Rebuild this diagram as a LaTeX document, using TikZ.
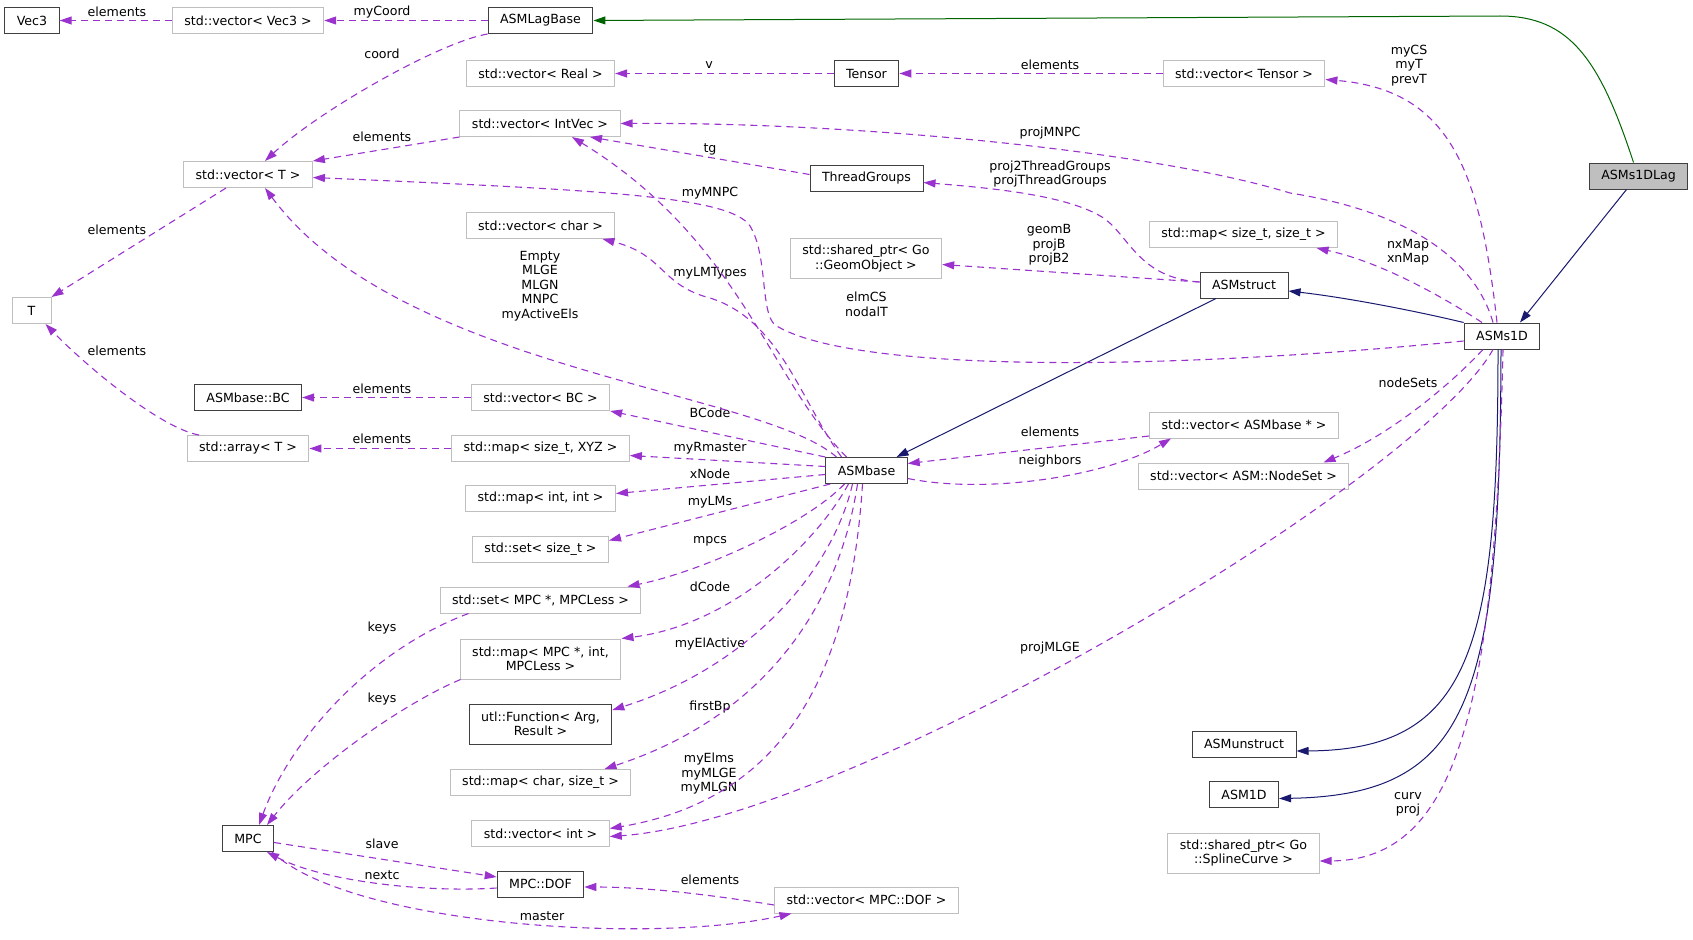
\documentclass[tikz,border=0pt]{standalone}
\usepackage{fontspec}
\setmainfont{DejaVu Sans}
\usetikzlibrary{arrows.meta}

\definecolor{edgepurple}{HTML}{9A32CD}
\definecolor{inhblue}{HTML}{191970}
\definecolor{protgreen}{HTML}{006400}
\definecolor{undocgray}{HTML}{BFBFBF}
\definecolor{docgray}{HTML}{404040}

\begin{document}
\begin{tikzpicture}[
  x=1pt, y=-1pt,
  font=\fontsize{12.6}{14.5}\selectfont,
  cls/.style={rectangle, draw=docgray, line width=1pt, fill=white, align=center,
              inner xsep=12pt, inner ysep=2pt, minimum height=26pt},
  ext/.style={cls, draw=undocgray},
  cur/.style={cls, fill=undocgray},
  tall/.style={minimum height=40pt},
  lbl/.style={inner sep=0pt, align=center},
  dep/.style={-{Triangle[length=12pt,width=8pt]}, edgepurple, line width=1.1pt,
              dash pattern=on 7pt off 5pt},
  inh/.style={-{Triangle[length=12pt,width=8pt]}, inhblue, line width=1pt},
  prot/.style={-{Triangle[length=12pt,width=8pt]}, protgreen, line width=1pt},
]
\useasboundingbox (0,0) rectangle (1693,939);

% Classes -- columns at x = 32, 248, 540, 866, 1244, 1502, 1638
\node[cls] (Vec3)    at (32,20.5)    {Vec3};
\node[ext, minimum width=39pt] (T) at (31.5,310.5) {T};

\node[ext] (VecVec3) at (248,20.5)   {std::vector< Vec3 >};
\node[ext] (VecT)    at (248,174.5)  {std::vector< T >};
\node[cls] (BC)      at (248,397.5)  {ASMbase::BC};
\node[ext] (ArrT)    at (248,448.5)  {std::array< T >};
\node[cls] (MPC)     at (248,838.5)  {MPC};

\node[cls] (LagBase)   at (540.5,20.5)  {ASMLagBase};
\node[ext] (VecReal)   at (540.5,73.5)  {std::vector< Real >};
\node[ext] (VecIntVec) at (540,123.5)   {std::vector< IntVec >};
\node[ext] (VecChar)   at (540.5,225.5) {std::vector< char >};
\node[ext] (VecBC)     at (540.5,397.5) {std::vector< BC >};
\node[ext] (MapXYZ)    at (540.5,448.5) {std::map< size\_t, XYZ >};
\node[ext] (MapII)     at (540.5,498.5) {std::map< int, int >};
\node[ext] (SetSz)     at (540.5,549.5) {std::set< size\_t >};
\node[ext] (SetMPC)    at (540.5,600)   {std::set< MPC *, MPCLess >};
\node[ext, tall] (MapMPC) at (540.5,659) {std::map< MPC *, int,\\MPCLess >};
\node[cls, tall] (Func)   at (540.5,724) {utl::Function< Arg,\\Result >};
\node[ext] (MapChar)   at (540.5,782.5) {std::map< char, size\_t >};
\node[ext] (VecInt)    at (540.5,833.5) {std::vector< int >};
\node[cls] (DOF)       at (540.5,884)   {MPC::DOF};

\node[cls] (Tensor)  at (866.5,73.5)  {Tensor};
\node[cls] (Threads) at (866.5,178.5) {ThreadGroups};
\node[ext, tall] (GeomObj) at (866,258.5) {std::shared\_ptr< Go\\::GeomObject >};
\node[cls] (ASMbase) at (866.5,470.5) {ASMbase};
\node[ext] (VecDOF)  at (866.5,900)   {std::vector< MPC::DOF >};

\node[ext] (VecTensor) at (1244,73.5)   {std::vector< Tensor >};
\node[ext] (MapSz)     at (1243.5,234.5){std::map< size\_t, size\_t >};
\node[cls] (ASMstruct) at (1244,285)    {ASMstruct};
\node[ext] (VecASMp)   at (1244,425)    {std::vector< ASMbase * >};
\node[ext] (VecNS)     at (1243.5,476)  {std::vector< ASM::NodeSet >};
\node[cls] (Unstr)     at (1244,744)    {ASMunstruct};
\node[cls] (ASM1D)     at (1244,794.5)  {ASM1D};
\node[ext, tall] (Spline) at (1243.5,853) {std::shared\_ptr< Go\\::SplineCurve >};

\node[cls] (S1D)    at (1502,336)   {ASMs1D};
\node[cur] (S1DLag) at (1638.5,176) {ASMs1DLag};

% Edge labels
\node[lbl] (lElVec3)   at (117,12)    {elements};
\node[lbl] (lElT)      at (117,230)   {elements};
\node[lbl] (lElArr)    at (117,351)   {elements};
\node[lbl] (lMyCoord)  at (382,12)    {myCoord};
\node[lbl] (lCoord)    at (382,54)    {coord};
\node[lbl] (lElIntVec) at (382,137)   {elements};
\node[lbl] (lElBC)     at (382,389)   {elements};
\node[lbl] (lElXYZ)    at (382,439)   {elements};
\node[lbl] (lKeysA)    at (382,628)   {keys};
\node[lbl] (lKeysB)    at (382,699)   {keys};
\node[lbl] (lSlave)    at (382,844)   {slave};
\node[lbl] (lNextc)    at (382,875)   {nextc};
\node[lbl] (lEmpty)    at (540,286)   {Empty\\MLGE\\MLGN\\MNPC\\myActiveEls};
\node[lbl] (lMaster)   at (542,916)   {master};
\node[lbl] (lV)        at (709,65)    {v};
\node[lbl] (lTg)       at (710,149)   {tg};
\node[lbl] (lMyMNPC)   at (710,193)   {myMNPC};
\node[lbl] (lLMTypes)  at (710,273)   {myLMTypes};
\node[lbl] (lBCode)    at (710,413)   {BCode};
\node[lbl] (lRmaster)  at (710,448)   {myRmaster};
\node[lbl] (lXNode)    at (710,474)   {xNode};
\node[lbl] (lMyLMs)    at (710,502)   {myLMs};
\node[lbl] (lMpcs)     at (710,541)   {mpcs};
\node[lbl] (lDCode)    at (710,587)   {dCode};
\node[lbl] (lElActive) at (710,644)   {myElActive};
\node[lbl] (lFirstBp)  at (710,707)   {firstBp};
\node[lbl] (lMyElms)   at (709,774)   {myElms\\myMLGE\\myMLGN};
\node[lbl] (lElDOF)    at (710,880)   {elements};
\node[lbl] (lElmCS)    at (866.5,304.5) {elmCS\\nodalT};
\node[lbl] (lElTensor) at (1050,65)   {elements};
\node[lbl] (lProjMNPC) at (1050,133)  {projMNPC};
\node[lbl] (lThreadG)  at (1050,174)  {proj2ThreadGroups\\projThreadGroups};
\node[lbl] (lGeomB)    at (1049,245)  {geomB\\projB\\projB2};
\node[lbl] (lElASMp)   at (1050,432)  {elements};
\node[lbl] (lNeighb)   at (1050,461)  {neighbors};
\node[lbl] (lProjMLGE) at (1050,648)  {projMLGE};
\node[lbl] (lMyCS)     at (1409,65.5) {myCS\\myT\\prevT};
\node[lbl] (lNxMap)    at (1408,252)  {nxMap\\xnMap};
\node[lbl] (lNodeSets) at (1408,383)  {nodeSets};
\node[lbl] (lCurv)     at (1408,804.5){curv\\proj};

% Left part
\draw[dep] (VecVec3) -- (Vec3);
\draw[dep] (LagBase) -- (VecVec3);
\draw[dep] (LagBase.south west) .. controls (440,42) and (320,110) .. ([xshift=17]VecT.north);
\draw[dep] (VecIntVec.south west) -- (VecT.north east);
\draw[dep] ([xshift=-22]VecT.south) -- (T.north east);
\draw[dep] ([xshift=-49]ArrT.north) .. controls (160,428) and (85,365) .. ([xshift=14]T.south);
\draw[dep] (VecBC) -- (BC);
\draw[dep] (MapXYZ) -- (ArrT);
\draw[dep] (Tensor) -- (VecReal);
\draw[dep] (VecTensor) -- (Tensor);

% MPC and its DOFs
\draw[dep] ([xshift=-72]SetMPC.south) .. controls (370,650) and (290,740) .. ([xshift=11]MPC.north);
\draw[dep] ([xshift=-80]MapMPC.south) .. controls (400,705) and (310,770) .. ([xshift=19]MPC.north);
\draw[dep] ([yshift=-4]MPC.east) -- ([yshift=7]DOF.west);
\draw[dep] ([yshift=-4]DOF.west) .. controls (420,893) and (320,880) .. ([xshift=19]MPC.south);
\draw[dep] ([xshift=24]MPC.south) .. controls (350,925) and (650,945) .. ([xshift=-75]VecDOF.south);
\draw[dep] ([yshift=-5]VecDOF.west) .. controls (700,893) and (640,887) .. ([yshift=-3]DOF.east);

% ASMbase members
\draw[dep] (ASMbase.north west) -- (VecBC.south east);
\draw[dep] ([yshift=4]ASMbase.west) -- ([yshift=-7]MapXYZ.east);
\draw[dep] ([yshift=-4]ASMbase.west) -- ([yshift=5]MapII.east);
\draw[dep] ([xshift=5]ASMbase.south west) -- ([yshift=9]SetSz.east);
\draw[dep] ([xshift=-22]ASMbase.south) .. controls (805,525) and (700,572) .. ([xshift=87]SetMPC.north);
\draw[dep] ([xshift=-18]ASMbase.south) .. controls (815,545) and (730,625) .. ([xshift=81]MapMPC.north);
\draw[dep] ([xshift=-14]ASMbase.south) .. controls (830,580) and (740,670) .. ([yshift=14]Func.east);
\draw[dep] ([xshift=-9]ASMbase.south) .. controls (840,600) and (770,715) .. ([xshift=64]MapChar.north);
\draw[dep] ([xshift=-4]ASMbase.south) .. controls (850,680) and (780,800) .. ([yshift=5]VecInt.east);
\draw[dep] ([xshift=-30]ASMbase.north) .. controls (760,390) and (400,370) .. ([xshift=17]VecT.south);
\draw[dep] ([xshift=-20]ASMbase.north) .. controls (770,380) and (740,240) .. ([xshift=32]VecIntVec.south);
\draw[dep] ([xshift=-25]ASMbase.north) .. controls (800,400) and (780,320) .. (710,298)
  .. controls (660,285) and (665,255) .. ([xshift=62]VecChar.south);
\draw[dep] ([yshift=-8]ASMbase.east) .. controls (990,495) and (1110,475) .. ([xshift=-73]VecASMp.south);
\draw[dep] ([yshift=-11]VecASMp.west) -- ([yshift=7]ASMbase.east);
\draw[dep] ([yshift=4]Threads.west) -- ([xshift=50]VecIntVec.south);

% ASMstruct
\draw[inh] ([xshift=-28]ASMstruct.south) -- ([xshift=30]ASMbase.north);
\draw[dep] ([yshift=3]ASMstruct.west) .. controls (1140,278) and (1130,238) .. (1105,219)
  .. controls (1070,195) and (990,188) .. ([yshift=-4]Threads.east);
\draw[dep] ([yshift=3]ASMstruct.west) -- ([yshift=-6]GeomObj.east);

% ASMs1D
\draw[inh] (S1D.north west) .. controls (1420,312) and (1350,298) .. ([yshift=-6]ASMstruct.east);
\draw[dep] ([xshift=-5]S1D.north) .. controls (1480,170) and (1450,90) .. ([yshift=-6]VecTensor.east);
\draw[dep] ([xshift=-9]S1D.north) .. controls (1475,260) and (1410,212) .. (1290,193)
  .. controls (1150,150) and (850,122) .. (VecIntVec.east);
\draw[dep] ([xshift=-20]S1D.north) .. controls (1440,295) and (1380,262) .. ([xshift=73]MapSz.south);
\draw[dep] ([yshift=-5]S1D.west) .. controls (1150,372) and (850,372) .. (775,325)
  .. controls (760,312) and (768,255) .. (750,226)
  .. controls (730,196) and (600,190) .. ([yshift=-3]VecT.east);
\draw[dep] ([xshift=-19]S1D.south) .. controls (1450,385) and (1390,435) .. ([xshift=80]VecNS.north);
\draw[dep] ([xshift=-9]S1D.south) .. controls (1420,480) and (850,820) .. ([yshift=-3]VecInt.east);
\draw[inh] ([xshift=-4]S1D.south) .. controls (1498,650) and (1470,750) .. ([yshift=-7]Unstr.east);
\draw[inh] ([xshift=-1]S1D.south) .. controls (1500,700) and (1470,795) .. ([yshift=-4]ASM1D.east);
\draw[dep] ([xshift=1]S1D.south) .. controls (1495,700) and (1460,860) .. ([yshift=-8]Spline.east);

% ASMs1DLag
\draw[inh] ([xshift=-12]S1DLag.south) -- ([xshift=18]S1D.north);
\draw[prot] ([xshift=-5]S1DLag.north) .. controls (1600,60) and (1570,16) .. (1500,16) -- (LagBase.east);

\end{tikzpicture}
\end{document}
